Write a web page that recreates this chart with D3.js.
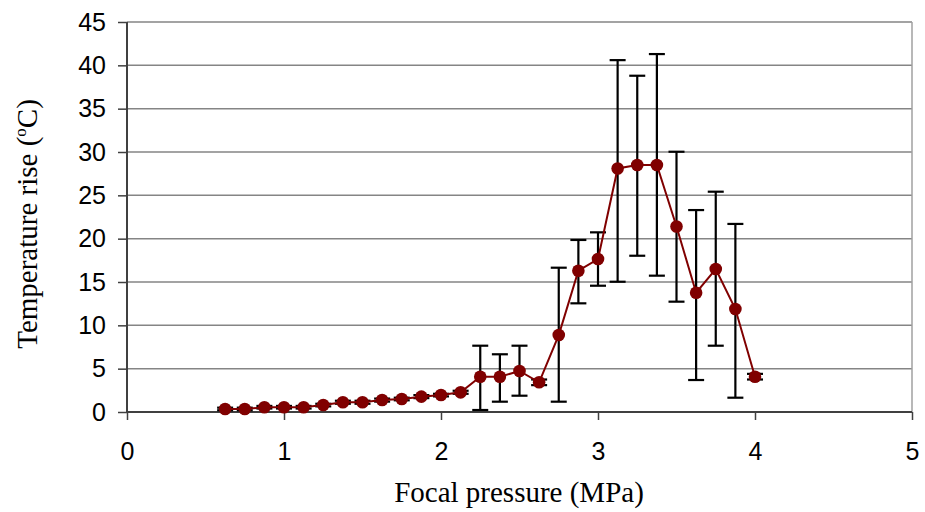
<!DOCTYPE html>
<html lang="en">
<head>
<meta charset="UTF-8">
<title>Temperature rise vs focal pressure</title>
<style>
    body { margin: 0; background: #fff; }
    .tick text { font-family: "Liberation Sans", Arial, sans-serif; font-size: 25px; fill: #000; }
    .title { font-family: "Liberation Serif", "Times New Roman", serif; font-size: 29px; fill: #000; }
</style>
</head>
<body>
<div id="chart"></div>
<script src="https://d3js.org/d3.v7.min.js"></script>
<script>
    // data
    var pressure = [0.625, 0.75, 0.875, 1.0, 1.125, 1.25, 1.375, 1.5, 1.625, 1.75, 1.875, 2.0, 2.125,
        2.25, 2.375, 2.5, 2.625, 2.75, 2.875, 3.0, 3.125, 3.25, 3.375, 3.5, 3.625, 3.75, 3.875, 4.0];
    var tempRise = [0.35, 0.35, 0.54, 0.54, 0.54, 0.81, 1.12, 1.12, 1.38, 1.5, 1.77, 1.96, 2.27,
        4.07, 4.07, 4.73, 3.43, 8.88, 16.3, 17.65, 28.1, 28.5, 28.5, 21.4, 13.76, 16.5, 11.88, 4.07];
    var errLow = [0.2, 0.2, 0.4, 0.4, 0.4, 0.65, 0.95, 0.95, 1.2, 1.35, 1.6, 1.8, 2.1,
        0.23, 1.19, 1.88, 3.1, 1.19, 12.54, 14.57, 15.03, 18.03, 15.73, 12.73, 3.69, 7.65, 1.65, 3.75];
    var errHigh = [0.5, 0.5, 0.7, 0.7, 0.7, 0.95, 1.3, 1.3, 1.55, 1.65, 1.95, 2.1, 2.45,
        7.65, 6.66, 7.65, 3.75, 16.65, 19.85, 20.73, 40.6, 38.8, 41.3, 30.03, 23.3, 25.42, 21.7, 4.4];
    var xTicks = [0, 1, 2, 3, 4, 5];
    var yTicks = [0, 5, 10, 15, 20, 25, 30, 35, 40, 45];

    var width = 925, height = 512;
    var margin = {left: 127, right: 13, top: 22, bottom: 100};

    var svg = d3.select("#chart").append("svg")
        .attr("width", width)
        .attr("height", height)
        .style("background-color", "#fff");

    var xScale = d3.scaleLinear().domain([0, 5]).range([margin.left, width - margin.right]);
    var yScale = d3.scaleLinear().domain([0, 45]).range([height - margin.bottom, margin.top]);

    // gridlines
    svg.append("g").selectAll("line")
        .data(yTicks.slice(1))
        .join("line")
        .attr("x1", xScale(0)).attr("x2", xScale(5))
        .attr("y1", function (d) { return yScale(d); })
        .attr("y2", function (d) { return yScale(d); })
        .attr("stroke", "#858585")
        .attr("stroke-width", 1.5);

    // right border
    svg.append("line")
        .attr("x1", xScale(5)).attr("x2", xScale(5))
        .attr("y1", yScale(45)).attr("y2", yScale(0))
        .attr("stroke", "#a0a0a0")
        .attr("stroke-width", 1.5);

    // axes
    var xAxis = d3.axisBottom(xScale).tickValues(xTicks).tickSize(8).tickPadding(22).tickFormat(d3.format("d"));
    var yAxis = d3.axisLeft(yScale).tickValues(yTicks).tickSize(9).tickPadding(12);

    var xAxisG = svg.append("g")
        .attr("class", "axis")
        .attr("transform", "translate(0," + yScale(0) + ")")
        .call(xAxis);
    var yAxisG = svg.append("g")
        .attr("class", "axis")
        .attr("transform", "translate(" + xScale(0) + ",0)")
        .call(yAxis);

    svg.selectAll(".axis path").attr("stroke", "#404040").attr("stroke-width", 2);
    svg.selectAll(".axis line").attr("stroke", "#404040").attr("stroke-width", 1.5);
    yAxisG.select("path").attr("d", "M0," + yScale(0) + "V" + yScale(45));
    xAxisG.select("path").attr("d", "M" + xScale(0) + ",0H" + xScale(5));

    // error bars
    var capHalf = 8;
    var errG = svg.append("g").attr("stroke", "#000").attr("stroke-width", 2.2).attr("fill", "none");
    pressure.forEach(function (p, i) {
        var x = xScale(p);
        errG.append("line")
            .attr("x1", x).attr("x2", x)
            .attr("y1", yScale(errLow[i])).attr("y2", yScale(errHigh[i]));
        errG.append("line")
            .attr("x1", x - capHalf).attr("x2", x + capHalf)
            .attr("y1", yScale(errLow[i])).attr("y2", yScale(errLow[i]));
        errG.append("line")
            .attr("x1", x - capHalf).attr("x2", x + capHalf)
            .attr("y1", yScale(errHigh[i])).attr("y2", yScale(errHigh[i]));
    });

    // line + markers
    var points = pressure.map(function (p, i) { return [p, tempRise[i]]; });
    var lineSegment = d3.line()
        .x(function (d) { return xScale(d[0]); })
        .y(function (d) { return yScale(d[1]); });

    svg.append("path")
        .datum(points)
        .attr("d", lineSegment)
        .attr("stroke", "#800000")
        .attr("stroke-width", 2)
        .attr("fill", "none");

    svg.append("g").selectAll("circle")
        .data(points)
        .join("circle")
        .attr("cx", function (d) { return xScale(d[0]); })
        .attr("cy", function (d) { return yScale(d[1]); })
        .attr("r", 6.3)
        .attr("fill", "#800000");

    // titles
    svg.append("text")
        .attr("class", "title")
        .attr("x", 519)
        .attr("y", 502)
        .attr("text-anchor", "middle")
        .text("Focal pressure (MPa)");

    var yTitle = svg.append("text")
        .attr("class", "title")
        .attr("transform", "translate(37,224) rotate(-90)")
        .attr("text-anchor", "middle");
    yTitle.append("tspan").text("Temperature rise (");
    yTitle.append("tspan").attr("font-size", "17px").attr("dy", -11).text("o");
    yTitle.append("tspan").attr("dy", 11).text("C)");
</script>
</body>
</html>
